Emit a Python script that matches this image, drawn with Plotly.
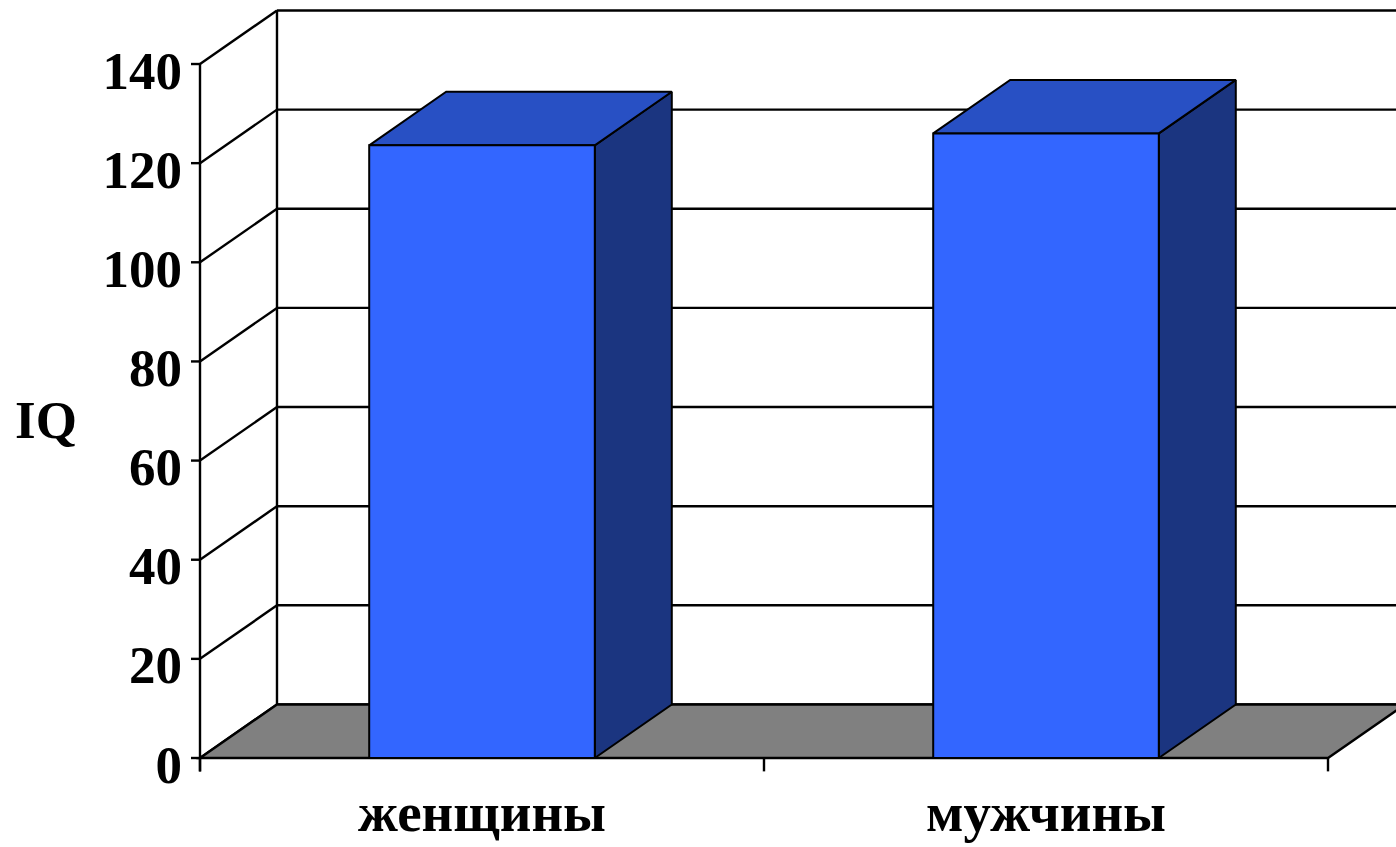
import plotly.graph_objects as go

# ---- data ----
categories = ["женщины", "мужчины"]
iq_values = [123.6, 126.0]
y_ticks = [0, 20, 40, 60, 80, 100, 120, 140]

# ---- 3D projection / style constants ----
DX = 0.1365      # depth offset in x (category units)
DY = 10.8        # depth offset in y (value units)
BAR_HALF = 0.2   # half width of bar in category units
YMAX = 140
FRONT_C = "#3366FF"
TOP_C = "#2850C4"
SIDE_C = "#1B3580"
FLOOR_C = "#808080"
FONT = "Liberation Serif, Times New Roman, serif"
LW = 2.4

fig = go.Figure()
shapes = []
ncat = len(categories)

# back wall gridlines
for t in y_ticks:
    shapes.append(dict(type="line", xref="x", yref="y", x0=DX, x1=ncat + DX,
                       y0=t + DY, y1=t + DY, line=dict(color="black", width=LW),
                       layer="below"))
# left wall diagonals
for t in y_ticks:
    shapes.append(dict(type="line", xref="x", yref="y", x0=0, x1=DX,
                       y0=t, y1=t + DY, line=dict(color="black", width=LW),
                       layer="below"))
# back wall left edge
shapes.append(dict(type="line", xref="x", yref="y", x0=DX, x1=DX,
                   y0=DY, y1=YMAX + DY, line=dict(color="black", width=LW),
                   layer="below"))
# floor
shapes.append(dict(type="path", xref="x", yref="y",
                   path=f"M 0 0 L {ncat} 0 L {ncat + DX} {DY} L {DX} {DY} Z",
                   fillcolor=FLOOR_C, line=dict(color="black", width=LW),
                   layer="below"))
# front value axis line (extended down to tick mark)
shapes.append(dict(type="line", xref="x", yref="y", x0=0, x1=0,
                   y0=-2.7, y1=YMAX, line=dict(color="black", width=LW)))
# value axis tick marks
for t in y_ticks:
    shapes.append(dict(type="line", xref="x", yref="y", x0=-0.016, x1=0,
                       y0=t, y1=t, line=dict(color="black", width=LW)))
# category axis tick marks
for i in range(ncat + 1):
    shapes.append(dict(type="line", xref="x", yref="y", x0=i, x1=i,
                       y0=0, y1=-2.7, line=dict(color="black", width=LW)))

# bars
for i, v in enumerate(iq_values):
    xl = i + 0.5 - BAR_HALF
    xr = i + 0.5 + BAR_HALF
    # right side
    fig.add_trace(go.Scatter(x=[xr, xr + DX, xr + DX, xr, xr],
                             y=[0, DY, v + DY, v, 0], mode="lines",
                             fill="toself", fillcolor=SIDE_C,
                             line=dict(color="black", width=2),
                             hoverinfo="skip", showlegend=False))
    # top
    fig.add_trace(go.Scatter(x=[xl, xr, xr + DX, xl + DX, xl],
                             y=[v, v, v + DY, v + DY, v], mode="lines",
                             fill="toself", fillcolor=TOP_C,
                             line=dict(color="black", width=2),
                             hoverinfo="skip", showlegend=False))
    # front
    fig.add_trace(go.Scatter(x=[xl, xr, xr, xl, xl],
                             y=[0, 0, v, v, 0], mode="lines",
                             fill="toself", fillcolor=FRONT_C,
                             line=dict(color="black", width=2),
                             hoverinfo="skip", showlegend=False))

PX_PER_X = 564.0
PX_PER_Y = 4.957
ML, MT, MB = 186, 8, 72
W, H = 1396, 847
x0 = -(200 - ML) / PX_PER_X
x1 = x0 + (W - ML) / PX_PER_X
y1 = (758 - MT) / PX_PER_Y
y0 = (758 - (H - MB)) / PX_PER_Y

fig.update_layout(
    width=W, height=H,
    margin=dict(l=ML, r=0, t=MT, b=MB, pad=0, autoexpand=False),
    paper_bgcolor="white", plot_bgcolor="white",
    shapes=shapes,
    showlegend=False,
    xaxis=dict(range=[x0, x1], tickvals=[i + 0.5 for i in range(ncat)],
               ticktext=categories, showgrid=False, zeroline=False,
               showline=False, ticks="", ticklabelstandoff=0, automargin=False,
               tickfont=dict(family=FONT, size=55, color="black", weight="bold")),
    yaxis=dict(range=[y0, y1], tickvals=y_ticks,
               ticktext=[str(t) for t in y_ticks], showgrid=False,
               zeroline=False, showline=False, ticks="", ticklabelshift=6,
               ticklabelstandoff=3, automargin=False,
               tickfont=dict(family=FONT, size=53, color="black", weight="bold")),
    annotations=[dict(text="IQ", xref="paper", yref="paper", x=-ML / (W - ML) + 46 / (W - ML),
                      y=(H - MB - 420) / (H - MT - MB), xanchor="center",
                      yanchor="middle", showarrow=False,
                      font=dict(family=FONT, size=53, color="black", weight="bold"))],
)

fig.write_html("out.html")
